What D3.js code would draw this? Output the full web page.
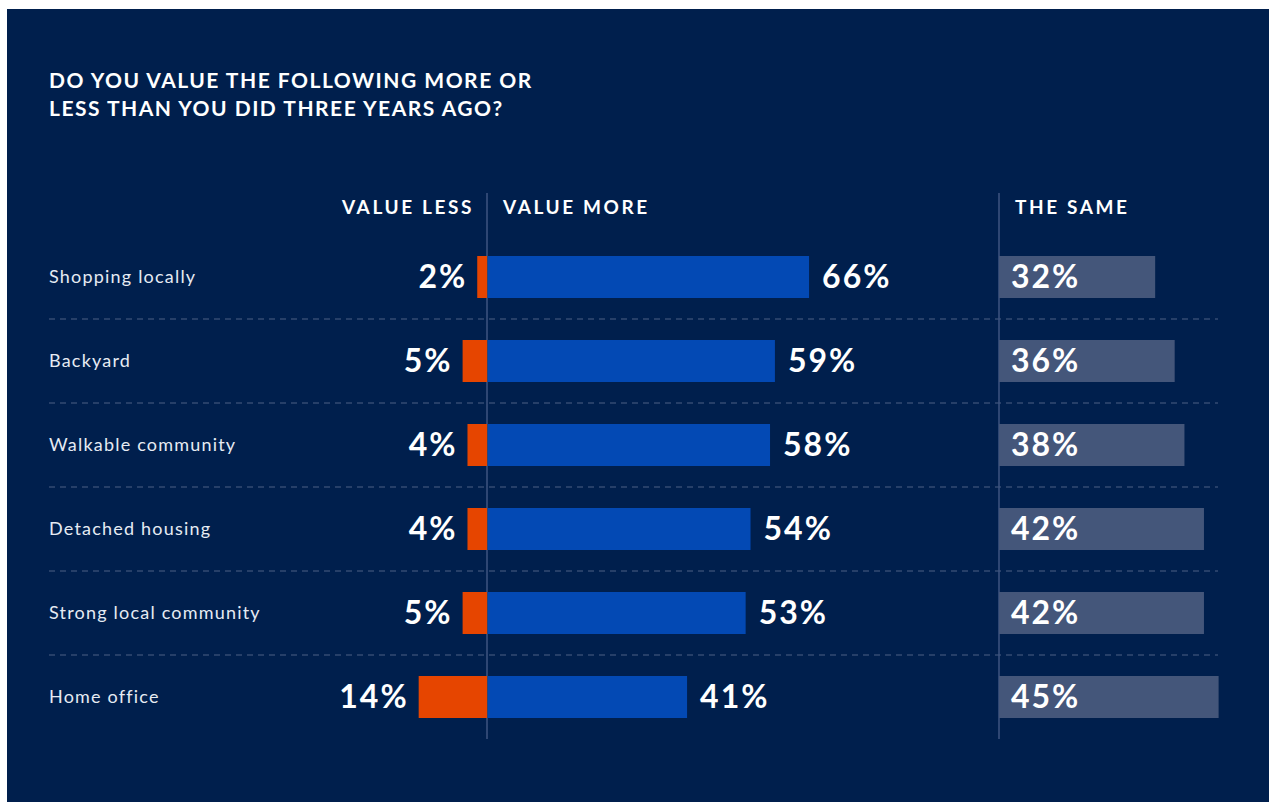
<!DOCTYPE html>
<html>
<head>
<meta charset="utf-8">
<script src="https://cdn.jsdelivr.net/npm/d3@7"></script>
<style>
  body { margin: 0; background: #fff; }
  svg text { font-family: "Lato", "Open Sans", sans-serif; }
</style>
</head>
<body>
<svg width="1269" height="802"></svg>
<script>
var categories = ["Shopping locally", "Backyard", "Walkable community", "Detached housing", "Strong local community", "Home office"];
var valueLess = [2, 5, 4, 4, 5, 14];
var valueMore = [66, 59, 58, 54, 53, 41];
var theSame = [32, 36, 38, 42, 42, 45];
var titleLines = ["DO YOU VALUE THE FOLLOWING MORE OR", "LESS THAN YOU DID THREE YEARS AGO?"];

var svg = d3.select("svg");

svg.append("rect")
    .attr("x", 7).attr("y", 9)
    .attr("width", 1262).attr("height", 793)
    .attr("fill", "#001f4d");

var axisX = 487, sameX = 999;
var pxPerPct = 4.88;

// scales
var x = d3.scaleLinear().domain([0, 100]).range([0, 100 * pxPerPct]);
var y = d3.scaleBand()
    .domain(categories)
    .range([235, 739])
    .paddingInner(0.5)
    .paddingOuter(0.25);

// title
svg.selectAll(".title")
  .data(titleLines)
  .enter().append("text")
    .attr("x", 49)
    .attr("y", function(d, i) { return 88 + i * 28; })
    .attr("fill", "#ffffff")
    .attr("font-size", 21)
    .attr("font-weight", 700)
    .attr("letter-spacing", 1.5)
    .text(function(d) { return d; });

// column headers
var headers = [
  {t: "VALUE LESS", x: axisX - 13, anchor: "end"},
  {t: "VALUE MORE", x: axisX + 16, anchor: "start"},
  {t: "THE SAME", x: sameX + 16, anchor: "start"}
];
svg.selectAll(".hdr")
  .data(headers)
  .enter().append("text")
    .attr("x", function(d) { return d.x; })
    .attr("y", 214)
    .attr("text-anchor", function(d) { return d.anchor; })
    .attr("fill", "#ffffff")
    .attr("font-size", 19)
    .attr("font-weight", 700)
    .attr("letter-spacing", 2.6)
    .text(function(d) { return d.t; });

// dashed separators between rows
svg.selectAll(".sep")
  .data(categories.slice(1))
  .enter().append("line")
    .attr("x1", 49).attr("x2", 1218)
    .attr("y1", function(d) { return y(d) - y.step() * y.paddingInner() / 2; })
    .attr("y2", function(d) { return y(d) - y.step() * y.paddingInner() / 2; })
    .attr("stroke", "#4d6185")
    .attr("stroke-width", 1)
    .attr("stroke-dasharray", "6,5");

// vertical axis lines
svg.selectAll(".vline")
  .data([axisX, sameX])
  .enter().append("line")
    .attr("x1", function(d) { return d; }).attr("x2", function(d) { return d; })
    .attr("y1", 193).attr("y2", 739)
    .attr("stroke", "#3e5580")
    .attr("stroke-width", 1.5);

var rows = svg.selectAll(".row")
  .data(categories)
  .enter().append("g")
    .attr("transform", function(d) { return "translate(0," + y(d) + ")"; });

var bh = y.bandwidth();

rows.append("text")
    .attr("x", 49)
    .attr("y", bh / 2 + 6)
    .attr("fill", "#e6ebf3")
    .attr("font-size", 18)
    .attr("letter-spacing", 1.2)
    .text(function(d) { return d; });

// value less (orange)
rows.append("rect")
    .attr("x", function(d, i) { return axisX - x(valueLess[i]); })
    .attr("width", function(d, i) { return x(valueLess[i]); })
    .attr("height", bh)
    .attr("fill", "#e64500");

var valueFont = function(sel) {
  sel.attr("fill", "#ffffff")
     .attr("font-size", 32)
     .attr("font-weight", 700)
     .attr("letter-spacing", 2)
     .attr("y", bh / 2 + 11);
};

rows.append("text")
    .attr("x", function(d, i) { return axisX - x(valueLess[i]) - 10; })
    .attr("text-anchor", "end")
    .call(valueFont)
    .text(function(d, i) { return valueLess[i] + "%"; });

// value more (blue)
rows.append("rect")
    .attr("x", axisX + 1)
    .attr("width", function(d, i) { return x(valueMore[i]) - 1; })
    .attr("height", bh)
    .attr("fill", "#0349b4");

rows.append("text")
    .attr("x", function(d, i) { return axisX + x(valueMore[i]) + 13; })
    .call(valueFont)
    .text(function(d, i) { return valueMore[i] + "%"; });

// the same (grey)
rows.append("rect")
    .attr("x", sameX)
    .attr("width", function(d, i) { return x(theSame[i]); })
    .attr("height", bh)
    .attr("fill", "#44567a");

rows.append("text")
    .attr("x", sameX + 12)
    .call(valueFont)
    .text(function(d, i) { return theSame[i] + "%"; });
</script>
</body>
</html>
